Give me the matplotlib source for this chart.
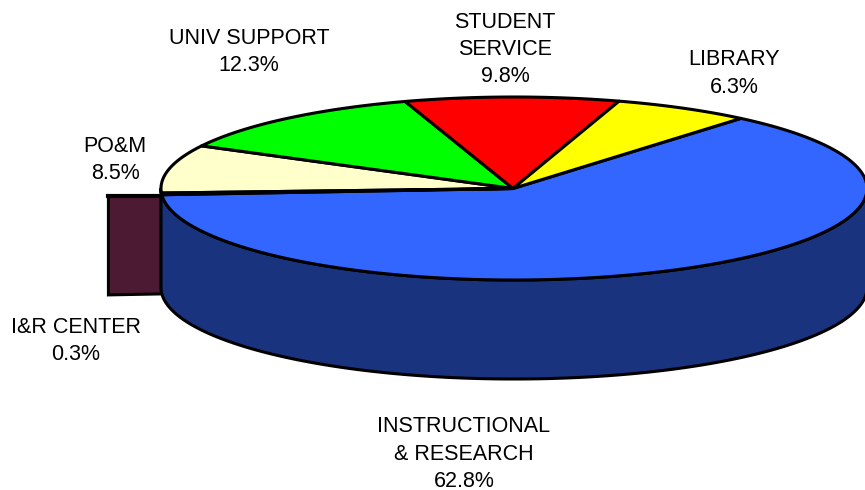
import numpy as np
import matplotlib
matplotlib.use("Agg")
import matplotlib.pyplot as plt
from matplotlib.patches import Polygon

plt.rcParams['font.family'] = ['Liberation Sans', 'DejaVu Sans']

categories = ["INSTRUCTIONAL\n& RESEARCH", "I&R CENTER", "PO&M", "UNIV SUPPORT", "STUDENT\nSERVICE", "LIBRARY"]
shares = [62.8, 0.3, 8.5, 12.3, 9.8, 6.3]
top_colors = ["#3366FF", "#4D1A33", "#FFFFCC", "#00FF00", "#FF0000", "#FFFF00"]
side_colors = ["#19337F", "#4D1A33", "#808066", "#008000", "#800000", "#808000"]
label_xy = [(464, 454), (76, 341), (115, 160), (249, 52), (505, 49.5), (734, 73.5)]

CX, CY, RX, RY, DEPTH = 514.0, 188.5, 353.0, 91.5, 99.0
APEX_X = 513.0
START = 50.0
EXPLODE = 53.0

fig = plt.figure(figsize=(8.65, 4.90), dpi=100)
ax = fig.add_axes([0, 0, 1, 1])
ax.set_xlim(0, 865)
ax.set_ylim(490, 0)
ax.axis("off")


def rim(a0, a1, n=200):
    t = np.radians(np.linspace(a0, a1, n))
    return np.column_stack([CX + RX * np.cos(t), CY - RY * np.sin(t)])


# sweep clockwise from START
edges = START - np.cumsum([0] + [s * 3.6 for s in shares])
lw = 2.2

# exploded thin slice: side wall
a0, a1 = edges[1], edges[2]
seam = rim(a0, a1, 10)
x_right = seam[:, 0].min()
y_top = seam[:, 1].mean() + 2
wall = np.array([[x_right - EXPLODE, y_top], [x_right, y_top],
                 [x_right, y_top + DEPTH - 1], [x_right - EXPLODE, y_top + DEPTH]])
ax.add_patch(Polygon(wall, closed=True, fc=side_colors[1], ec="black", lw=lw, joinstyle="miter", zorder=1))

# side wall of the large slice
front = rim(-180, 0)
wall = np.vstack([front, (front + [0, DEPTH])[::-1]])
ax.add_patch(Polygon(wall, closed=True, fc=side_colors[0], ec="black", lw=lw, joinstyle="round", zorder=2))

# top faces
for i, (s, c) in enumerate(zip(shares, top_colors)):
    if i == 1:
        continue
    pts = np.vstack([[APEX_X, CY], rim(edges[i], edges[i + 1])])
    ax.add_patch(Polygon(pts, closed=True, fc=c, ec="black", lw=lw, joinstyle="round", zorder=3))

# thin exploded top slice drawn as the dark seam
pts = np.vstack([[APEX_X, CY], rim(edges[1], edges[2], 5)])
ax.add_patch(Polygon(pts, closed=True, fc=top_colors[1], ec="black", lw=lw, zorder=4))
ax.plot([x_right - EXPLODE, x_right], [y_top, y_top], color="black", lw=3, zorder=4)

for name, share, (x, y) in zip(categories, shares, label_xy):
    ax.text(x, y, f"{name}\n{share:.1f}%", ha="center", va="center", fontsize=15.5,
            color="black", linespacing=1.39, zorder=5)

fig.savefig("out.png", dpi=100)
